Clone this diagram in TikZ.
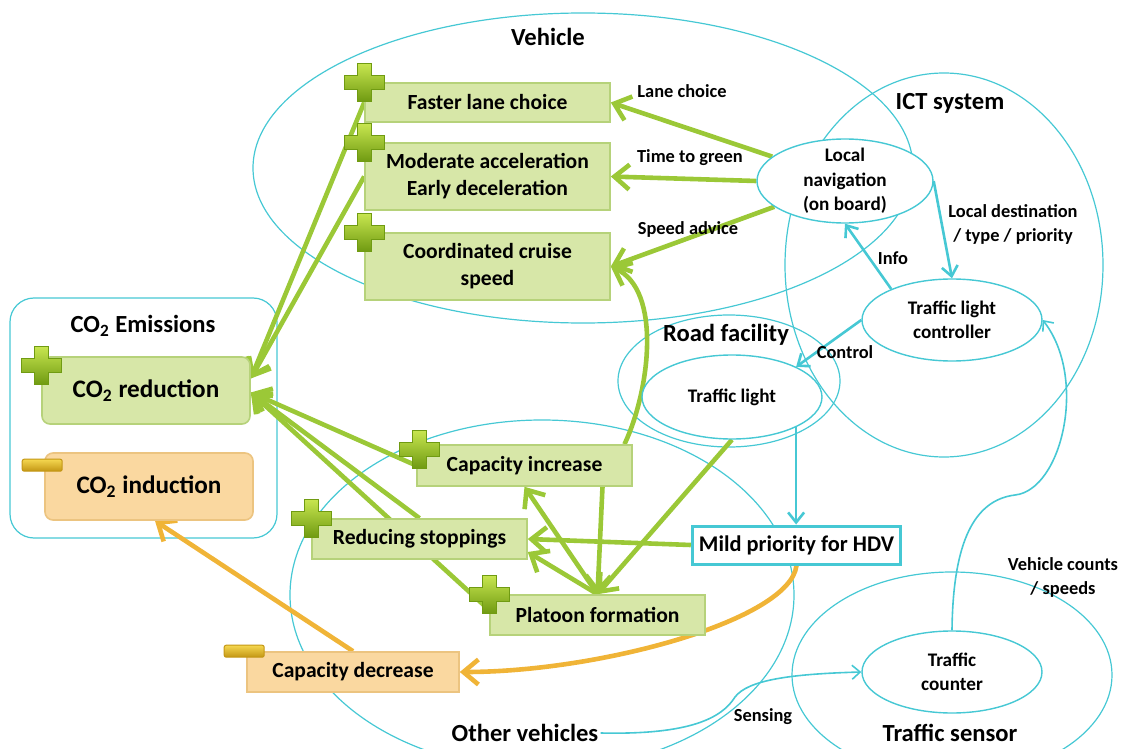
\documentclass[tikz,border=0pt]{standalone}
\usepackage{fontspec}
\setmainfont{Carlito}
\usetikzlibrary{shapes.geometric, arrows.meta, backgrounds}

\definecolor{cyanline}{RGB}{70,200,212}
\definecolor{greenfill}{RGB}{215,231,168}
\definecolor{greenedge}{RGB}{182,210,122}
\definecolor{orangefill}{RGB}{250,216,160}
\definecolor{orangeedge}{RGB}{236,196,128}
\definecolor{arrowgreen}{RGB}{155,200,55}
\definecolor{arroworange}{RGB}{240,180,55}
\definecolor{pluslight}{RGB}{200,230,80}
\definecolor{plusdark}{RGB}{112,155,18}
\definecolor{goldlight}{RGB}{245,215,80}
\definecolor{golddark}{RGB}{195,150,20}

\begin{document}
\begin{tikzpicture}[x=0.5pt, y=-0.5pt,
 grp ellipse/.style={draw=cyanline, line width=0.6pt},
 green node/.style={rectangle, draw=greenedge, fill=greenfill, line width=0.8pt, inner sep=0pt,
   align=center, font=\fontsize{10.8}{13.5}\selectfont\bfseries},
 orange node/.style={green node, draw=orangeedge, fill=orangefill},
 co2 node/.style={rounded corners=4pt, minimum width=104pt, minimum height=33.5pt,
   font=\fontsize{12.6}{15}\selectfont\bfseries},
 oval node/.style={ellipse, draw=cyanline, fill=white, line width=0.7pt, inner sep=0pt,
   minimum width=90pt, minimum height=41pt},
 oval text/.style={align=center, font=\fontsize{9.6}{12.2}\selectfont\bfseries},
 head text/.style={font=\fontsize{12.3}{15}\selectfont\bfseries, inner sep=1pt},
 flow label/.style={align=center, font=\fontsize{9.2}{12}\selectfont\bfseries, inner sep=0pt},
 green arrow/.style={draw=arrowgreen, line width=2.3pt, -{Straight Barb[length=7.5pt,width=12.5pt]}},
 orange arrow/.style={green arrow, draw=arroworange},
 info arrow/.style={draw=cyanline, line width=1.3pt, -{Straight Barb[length=5pt,width=8pt]}},
 sense arrow/.style={draw=cyanline, line width=0.8pt, -{Straight Barb[length=4pt,width=7pt]}},
 plus sign/.pic={\draw[draw=plusdark, line width=0.5pt, top color=pluslight, bottom color=plusdark]
   (-7,-19) -- (7,-19) -- (7,-7) -- (20,-7) -- (20,7) -- (7,7) -- (7,19) -- (-7,19)
   -- (-7,7) -- (-20,7) -- (-20,-7) -- (-7,-7) -- cycle;},
 minus sign/.pic={\draw[draw=golddark, line width=0.5pt, top color=goldlight, bottom color=golddark,
   rounded corners=1pt] (-20,-6) rectangle (20,6);}]

 \useasboundingbox (0,0) rectangle (1126,749);

 % effect boxes
 \node[green node, minimum width=122.5pt, minimum height=19.5pt] (fast) at (487.5,102.5) {Faster lane choice};
 \node[green node, minimum width=122.5pt, minimum height=33.5pt] (moder) at (487.5,176.5) {Moderate acceleration\\Early deceleration};
 \node[green node, minimum width=122.5pt, minimum height=33.5pt] (cruise) at (487.5,266.5) {Coordinated cruise\\speed};
 \node[green node, minimum width=107.5pt, minimum height=20.5pt] (capinc) at (524.5,465.5) {Capacity increase};
 \node[green node, minimum width=107.5pt, minimum height=20pt] (redstop) at (419.5,539) {Reducing stoppings};
 \node[green node, minimum width=107.5pt, minimum height=20pt] (platoon) at (597.5,615) {Platoon formation};
 \node[orange node, minimum width=106pt, minimum height=20pt] (capdec) at (353,672) {Capacity decrease};
 \node[green node, co2 node] (red) at (146,390.5) {CO\textsubscript{2} reduction};
 \node[orange node, co2 node] (ind) at (149,486.5) {CO\textsubscript{2} induction};
 \node[draw=cyanline, fill=white, line width=1.5pt, minimum width=104pt, minimum height=19pt,
   font=\fontsize{11.2}{13}\selectfont\bfseries] (mild) at (796.5,545) {Mild priority for HDV};

 % actors
 \node[oval node, minimum width=88pt, minimum height=42pt,
   label={[oval text]center:{Local\\navigation\\(on board)}}] (locnav) at (845,181) {};
 \node[oval node, label={[oval text]center:{Traffic light\\controller}}] (tlc) at (952,320) {};
 \node[oval node, minimum height=42pt, label={[oval text]center:{Traffic light}}] (tl) at (732,397) {};
 \node[oval node, label={[oval text]center:{Traffic\\counter}}] (counter) at (952,672) {};

 % group names
 \node[head text] (vehname) at (548,37) {Vehicle};
 \node[head text] (ictname) at (950,103) {ICT system};
 \node[head text] (roadname) at (726,335) {Road facility};
 \node[head text] (ov) at (525,733) {Other vehicles};
 \node[head text] (sensname) at (950,733) {Traffic sensor};
 \node[head text] (emisname) at (143,326) {CO\textsubscript{2} Emissions};

 % flow labels
 \node[flow label] (lbllane) at (682,91) {Lane choice};
 \node[flow label] (lbltime) at (690,158) {Time to green};
 \node[flow label] (lblspeed) at (688,229) {Speed advice};
 \node[flow label] (lbldest) at (1013,224) {Local destination\\/ type / priority};
 \node[flow label] (lblinfo) at (893,258) {Info};
 \node[flow label] (lblctrl) at (845,352) {Control};
 \node[flow label] (lblcount) at (1063,577) {Vehicle counts\\/ speeds};
 \node[flow label] (lblsense) at (763,717) {Sensing};

 % signs
 \foreach \n in {fast, moder, cruise, redstop, platoon}
   \pic at (\n.north west) {plus sign};
 \pic at ([xshift=1.5pt,yshift=-2.5pt]capinc.north west) {plus sign};
 \pic at ([yshift=-4.5pt]red.north west) {plus sign};
 \pic at ([xshift=-1pt,yshift=-6.5pt]ind.north west) {minus sign};
 \pic at ([xshift=-1pt]capdec.north west) {minus sign};

 \coordinate (redtop) at ([yshift=6pt]red.east);
 \coordinate (redlow) at ([yshift=-1pt]red.east);
 \coordinate (capincfoot) at ([xshift=39pt]capinc.south);
 \coordinate (capinctop) at ([xshift=50pt]capinc.north);
 \coordinate (platoonleft) at ([yshift=2.5pt]platoon.west);
 \coordinate (redstopin) at ([yshift=-6.5pt]redstop.east);
 \coordinate (indfoot) at ([xshift=3pt]ind.south);

 \begin{scope}[on background layer]
  \draw[grp ellipse] (583,168) ellipse [x radius=330, y radius=155];
  \draw[grp ellipse] (944,265) ellipse [x radius=159, y radius=192];
  \draw[grp ellipse] (542,595) ellipse [x radius=252, y radius=175];
  \draw[grp ellipse] (729,381) ellipse [x radius=111, y radius=66];
  \draw[grp ellipse] (952,675) ellipse [x radius=160, y radius=103];
  \draw[grp ellipse, rounded corners=12pt] (10,298) rectangle (277,538);

  \foreach \s/\t in {locnav/fast.east, locnav.west/moder.east, locnav/cruise.east,
    fast.west/redtop, moder.west/redtop, capinc.west/redlow, redstop.north/redlow,
    platoonleft/redlow, capincfoot/platoon.north, tl.south/platoon.north,
    platoon.north/capinc.south, platoon.north/redstopin, mild.west/redstop.east}
   \draw[green arrow] (\s) -- (\t);
  \draw[green arrow] (capinctop) .. controls (650,390) and (662,290) .. (cruise.east);

  \draw[orange arrow] (mild.south) .. controls (790,620) and (600,672) .. (capdec.east);
  \draw[orange arrow] (capdec.north) -- (indfoot);

  \draw[info arrow] (locnav.east) -- (tlc.north);
  \draw[info arrow] (tlc.153) -- (locnav.south);
  \draw[info arrow] (tlc.west) -- (tl.north east);
  \draw[info arrow] (tl.south east) -- (tl.south east |- mild.north);
  \draw[sense arrow] (counter.north) .. controls (953,540) and (975,500) .. (1015,495)
    .. controls (1062,490) and (1088,378) .. (tlc.east);
  \draw[sense arrow] (ov.east) .. controls (690,735) and (722,718) .. (735,697)
    .. controls (748,680) and (790,674) .. (counter.west);
 \end{scope}
\end{tikzpicture}
\end{document}
